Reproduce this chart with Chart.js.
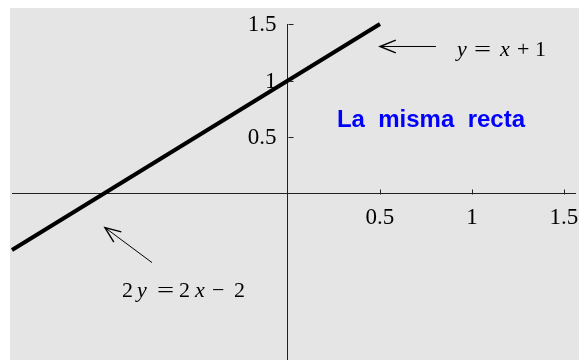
<!DOCTYPE html>
<html>
<head>
<meta charset="utf-8">
<script src="https://cdn.jsdelivr.net/npm/chart.js@4/dist/chart.umd.min.js"></script>
<style>
  html, body { margin: 0; padding: 0; background: #fff; }
</style>
</head>
<body>
<canvas id="c" width="579" height="360"></canvas>
<script>
// recta y = x + 1 (misma que 2y = 2x - 2 en la imagen)
const lineX = [-1.5, 0.5];
const lineY = [-0.5, 1.5];
const xTicks = [0.5, 1, 1.5];
const yTicks = [0.5, 1, 1.5];
const xTickLabels = ['0.5', '1', '1.5'];
const yTickLabels = ['0.5', '1', '1.5'];
const xRange = [-1.5, 1.56];
const yRange = [-1.473, 1.5];

// anotaciones en coordenadas de datos
const arrows = [
  { from: [0.804, 1.301], to: [0.5, 1.301] },
  { from: [-0.739, -0.611], to: [-0.995, -0.301] }
];
// [texto, estilo (0 normal, 1 cursiva, 2 signo igual ancho), desplazamiento px]
const formulas = [
  { at: [0.918, 1.215], parts: [['y', 1, 0], ['=', 2, 17], ['x', 1, 43], ['+', 0, 60], ['1', 0, 78]] },
  { at: [-0.902, -0.918], parts: [['2', 0, 0], ['y', 1, 15], ['=', 2, 35], ['2', 0, 57], ['x', 1, 73], ['\u2212', 0, 90], ['2', 0, 112]] }
];
const titleText = 'La  misma  recta';
const titleAt = [0.266, 0.587];

const AXIS = '#222';
const SERIF = "'Liberation Serif', 'Times New Roman', serif";
const TICK_LEN = 5;

const bgPlugin = {
  id: 'bg',
  beforeDraw(chart) {
    const ctx = chart.ctx;
    ctx.save();
    ctx.fillStyle = '#e5e5e5';
    ctx.fillRect(10, 8, chart.width - 10, chart.height - 8);
    ctx.restore();
  }
};

// marcas de graduación hacia dentro y etiquetas del eje y
const ticksPlugin = {
  id: 'innerTicks',
  afterDraw(chart) {
    const ctx = chart.ctx, sx = chart.scales.x, sy = chart.scales.y;
    const ox = Math.round(sx.getPixelForValue(0)) + 0.5;
    const oy = Math.round(sy.getPixelForValue(0)) + 0.5;
    ctx.save();
    ctx.strokeStyle = AXIS;
    ctx.lineWidth = 1;
    ctx.beginPath();
    xTicks.forEach(v => {
      const p = Math.round(sx.getPixelForValue(v)) + 0.5;
      ctx.moveTo(p, oy); ctx.lineTo(p, oy - TICK_LEN);
    });
    yTicks.forEach(v => {
      const p = Math.round(sy.getPixelForValue(v)) + 0.5;
      ctx.moveTo(ox, p); ctx.lineTo(ox + TICK_LEN, p);
    });
    ctx.stroke();
    ctx.fillStyle = '#000';
    ctx.font = '23px ' + SERIF;
    ctx.textAlign = 'right';
    ctx.textBaseline = 'middle';
    yTicks.forEach((v, i) => ctx.fillText(yTickLabels[i], ox - 12, sy.getPixelForValue(v) + 1));
    ctx.restore();
  }
};

const notesPlugin = {
  id: 'notes',
  afterDatasetsDraw(chart) {
    const ctx = chart.ctx, sx = chart.scales.x, sy = chart.scales.y;
    const px = p => [sx.getPixelForValue(p[0]), sy.getPixelForValue(p[1])];
    ctx.save();
    ctx.strokeStyle = '#000';
    // flechas
    arrows.forEach(a => {
      const [x0, y0] = px(a.from), [x1, y1] = px(a.to);
      ctx.lineWidth = 1;
      ctx.beginPath(); ctx.moveTo(x0, y0); ctx.lineTo(x1, y1); ctx.stroke();
      const ang = Math.atan2(y0 - y1, x0 - x1), len = 17, spread = 0.38;
      ctx.lineWidth = 1.4;
      ctx.beginPath();
      ctx.moveTo(x1 + len * Math.cos(ang - spread), y1 + len * Math.sin(ang - spread));
      ctx.lineTo(x1, y1);
      ctx.lineTo(x1 + len * Math.cos(ang + spread), y1 + len * Math.sin(ang + spread));
      ctx.stroke();
    });
    // fórmulas
    ctx.fillStyle = '#000';
    ctx.textBaseline = 'alphabetic';
    ctx.textAlign = 'left';
    formulas.forEach(f => {
      const [x0, y0] = px(f.at);
      f.parts.forEach(([t, kind, dx]) => {
        ctx.font = (kind === 1 ? 'italic ' : '') + '22px ' + SERIF;
        if (kind === 2) {
          ctx.save();
          ctx.translate(x0 + dx, y0);
          ctx.scale(1.38, 1);
          ctx.fillText(t, 0, 0);
          ctx.restore();
        } else {
          ctx.fillText(t, x0 + dx, y0);
        }
      });
    });
    // título azul
    const [tx, ty] = px(titleAt);
    ctx.font = "bold 24px 'Liberation Sans', Arial, sans-serif";
    ctx.fillStyle = '#0000ff';
    ctx.fillText(titleText, tx, ty);
    ctx.restore();
  }
};

const zeroPad = s => { s.paddingLeft = 0; s.paddingRight = 0; s.paddingTop = 0; s.paddingBottom = 0; };

new Chart(document.getElementById('c').getContext('2d'), {
  type: 'line',
  data: {
    datasets: [{
      data: lineX.map((x, i) => ({ x: x, y: lineY[i] })),
      borderColor: '#000', borderWidth: 4, pointRadius: 0, fill: false, tension: 0, clip: false
    }]
  },
  options: {
    responsive: false, animation: false, devicePixelRatio: 1,
    layout: { padding: { left: 12, right: 4, top: 24, bottom: 0 } },
    plugins: { legend: { display: false }, tooltip: { enabled: false } },
    scales: {
      x: {
        type: 'linear', min: xRange[0], max: xRange[1], position: { y: 0 },
        afterBuildTicks: s => { s.ticks = xTicks.map(v => ({ value: v })); },
        afterFit: zeroPad,
        grid: { display: false },
        border: { display: true, color: AXIS, width: 1 },
        ticks: { color: '#000', font: { family: SERIF, size: 23 }, padding: 3, maxRotation: 0, autoSkip: false,
          callback: v => xTickLabels[xTicks.indexOf(v)] || '' }
      },
      y: {
        type: 'linear', min: yRange[0], max: yRange[1], position: { x: 0 },
        afterBuildTicks: s => { s.ticks = yTicks.map(v => ({ value: v })); },
        afterFit: zeroPad,
        grid: { display: false },
        border: { display: true, color: AXIS, width: 1 },
        ticks: { display: false }
      }
    }
  },
  plugins: [bgPlugin, notesPlugin, ticksPlugin]
});
</script>
</body>
</html>
